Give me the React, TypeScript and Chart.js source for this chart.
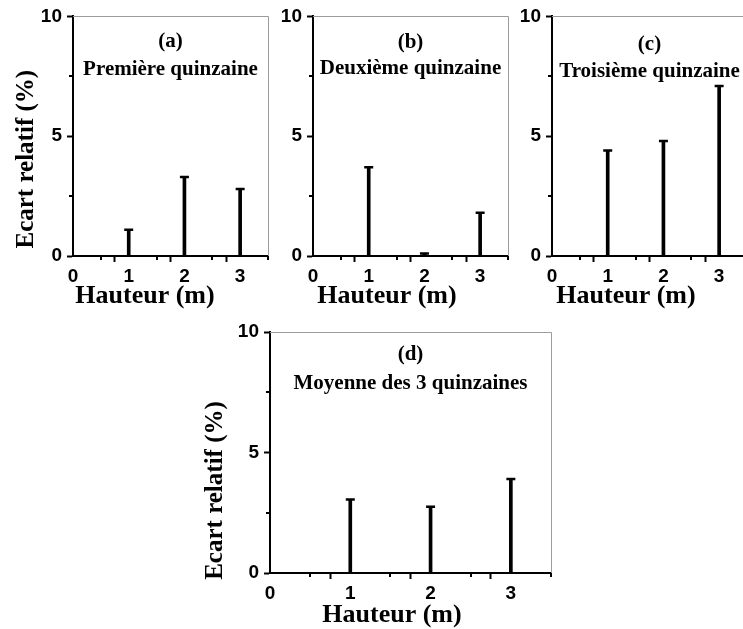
import { useEffect, useRef } from 'react';
import { Chart, registerables } from 'chart.js';

Chart.register(...registerables);

// ---------- data ----------
const heights = [1, 2, 3];
const valuesA = [1.1, 3.3, 2.8];
const valuesB = [3.7, 0.1, 1.8];
const valuesC = [4.4, 4.8, 7.1];
const valuesD = [3.05, 2.75, 3.9];

const xTickValues = [0, 1, 2, 3];
const xTickLabels = ['0', '1', '2', '3'];
const yTickValues = [0, 5, 10];
const yTickLabels = ['0', '5', '10'];

const panelLetters = ['(a)', '(b)', '(c)', '(d)'];
const panelNames = ['Première quinzaine', 'Deuxième quinzaine', 'Troisième quinzaine', 'Moyenne des 3 quinzaines'];
const xTitle = 'Hauteur (m)';
const yTitle = 'Ecart relatif (%)';

// ---------- layout ----------
type Panel = {
  values: number[];
  letter: string;
  name: string;
  showYTitle: boolean;
  left: number; top: number; w: number; h: number;
  yWidth: number; padTop: number; padRight: number; xHeight: number;
  xTitleDx: number; xTitleDy: number;
  yTitleDx: number; yTitleDy: number;
  letterDy: number; nameDy: number;
};

const panels: Panel[] = [
  {
    values: valuesA, letter: panelLetters[0], name: panelNames[0], showYTitle: true,
    left: 0, top: 0, w: 280, h: 315,
    yWidth: 73, padTop: 16, padRight: 12, xHeight: 59,
    xTitleDx: 72, xTitleDy: 47, yTitleDx: -40, yTitleDy: 23,
    letterDy: 25, nameDy: 53,
  },
  {
    values: valuesB, letter: panelLetters[1], name: panelNames[1], showYTitle: false,
    left: 280, top: 0, w: 240, h: 315,
    yWidth: 33, padTop: 16, padRight: 12, xHeight: 59,
    xTitleDx: 74, xTitleDy: 47, yTitleDx: 0, yTitleDy: 0,
    letterDy: 26, nameDy: 52,
  },
  {
    values: valuesC, letter: panelLetters[2], name: panelNames[2], showYTitle: false,
    left: 520, top: 0, w: 240, h: 315,
    yWidth: 32, padTop: 16, padRight: 13, xHeight: 59,
    xTitleDx: 74, xTitleDy: 47, yTitleDx: 0, yTitleDy: 0,
    letterDy: 28, nameDy: 55,
  },
  {
    values: valuesD, letter: panelLetters[3], name: panelNames[3], showYTitle: true,
    left: 180, top: 315, w: 390, h: 314,
    yWidth: 90, padTop: 17, padRight: 19, xHeight: 56,
    xTitleDx: 122, xTitleDy: 49, yTitleDx: -48, yTitleDy: 38,
    letterDy: 23, nameDy: 52,
  },
];

const SERIF = '"Liberation Serif", "Times New Roman", serif';
const SANS = '"Liberation Sans", Arial, sans-serif';

const isMajorX = (v: number) => xTickValues.indexOf(v) >= 0;
const isMajorY = (v: number) => yTickValues.indexOf(v) >= 0;

const decorPlugin = {
  id: 'decor',
  afterDraw(chart: any, _args: any, opts: any) {
    const p: Panel = opts.panel;
    const { ctx, chartArea: ca, scales } = chart;
    ctx.save();
    // top & right frame
    ctx.strokeStyle = '#9c9c9c';
    ctx.lineWidth = 1;
    ctx.beginPath();
    ctx.moveTo(ca.left, Math.round(ca.top) + 0.5);
    ctx.lineTo(Math.round(ca.right) + 0.5, Math.round(ca.top) + 0.5);
    ctx.lineTo(Math.round(ca.right) + 0.5, ca.bottom);
    ctx.stroke();

    // minor ticks
    ctx.strokeStyle = '#000';
    ctx.lineWidth = 2;
    ctx.beginPath();
    const xs = scales.x;
    xs.ticks.forEach((t: any) => {
      if (!isMajorX(t.value)) {
        const px = Math.round(xs.getPixelForValue(t.value));
        ctx.moveTo(px, ca.bottom);
        ctx.lineTo(px, ca.bottom + 4);
      }
    });
    const ys = scales.y;
    ys.ticks.forEach((t: any) => {
      if (!isMajorY(t.value)) {
        const py = Math.round(ys.getPixelForValue(t.value));
        ctx.moveTo(ca.left, py);
        ctx.lineTo(ca.left - 4, py);
      }
    });
    ctx.stroke();

    // panel annotations
    ctx.fillStyle = '#000';
    ctx.textAlign = 'center';
    ctx.textBaseline = 'middle';
    ctx.font = `bold 21px ${SERIF}`;
    const cx = (ca.left + ca.right) / 2;
    ctx.fillText(p.letter, cx, ca.top + p.letterDy);
    ctx.fillText(p.name, cx, ca.top + p.nameDy);

    // axis titles
    ctx.textBaseline = 'alphabetic';
    ctx.font = `bold 26px ${SERIF}`;
    ctx.fillText(xTitle, ca.left + p.xTitleDx, ca.bottom + p.xTitleDy);
    if (p.showYTitle) {
      ctx.translate(ca.left + p.yTitleDx, (ca.top + ca.bottom) / 2 + p.yTitleDy);
      ctx.rotate(-Math.PI / 2);
      ctx.font = `bold 25px ${SERIF}`;
      ctx.fillText(yTitle, 0, 0);
    }
    ctx.restore();
  },
};

function PanelChart({ p }: { p: Panel }) {
  const ref = useRef<HTMLCanvasElement>(null);
  useEffect(() => {
    const points = heights.map((h, i) => ({ x: h, y: p.values[i] }));
    const chart = new Chart(ref.current as HTMLCanvasElement, {
      type: 'bar',
      data: {
        datasets: [
          {
            type: 'bar',
            data: points,
            backgroundColor: '#000',
            borderWidth: 0,
            barThickness: 3,
          } as any,
          {
            type: 'scatter',
            data: points,
            pointStyle: 'line',
            pointRadius: 4.5,
            borderWidth: 2.5,
            borderColor: '#000',
            backgroundColor: '#000',
          } as any,
        ],
      },
      options: {
        responsive: false,
        animation: false,
        devicePixelRatio: 1,
        events: [],
        layout: { padding: { left: 0, top: p.padTop, right: p.padRight, bottom: 0 } },
        plugins: {
          legend: { display: false },
          tooltip: { enabled: false },
          decor: { panel: p },
        } as any,
        scales: {
          x: {
            type: 'linear',
            min: 0,
            max: 3.5,
            offset: false,
            afterFit: (s: any) => { s.height = p.xHeight; },
            border: { display: true, color: '#000', width: 2 },
            grid: {
              drawOnChartArea: false,
              drawTicks: true,
              tickLength: 6,
              tickWidth: 2,
              tickColor: (c: any) => (isMajorX(c.tick?.value) ? '#000' : 'rgba(0,0,0,0)'),
            },
            ticks: {
              stepSize: 0.5,
              autoSkip: false,
              maxRotation: 0,
              padding: 3,
              color: '#000',
              font: { family: SANS, size: 19, weight: 'bold' },
              callback: (v: any) => {
                const i = xTickValues.indexOf(Number(v));
                return i >= 0 ? xTickLabels[i] : '';
              },
            },
          } as any,
          y: {
            type: 'linear',
            min: 0,
            max: 10,
            afterFit: (s: any) => { s.width = p.yWidth; },
            border: { display: true, color: '#000', width: 2 },
            grid: {
              drawOnChartArea: false,
              drawTicks: true,
              tickLength: 6,
              tickWidth: 2,
              tickColor: (c: any) => (isMajorY(c.tick?.value) ? '#000' : 'rgba(0,0,0,0)'),
            },
            ticks: {
              stepSize: 2.5,
              autoSkip: false,
              padding: 5,
              color: '#000',
              font: { family: SANS, size: 19, weight: 'bold' },
              callback: (v: any) => {
                const i = yTickValues.indexOf(Number(v));
                return i >= 0 ? yTickLabels[i] : '';
              },
            },
          } as any,
        },
      },
      plugins: [decorPlugin as any],
    });
    return () => chart.destroy();
  }, [p]);
  return (
    <canvas
      ref={ref}
      width={p.w}
      height={p.h}
      style={{ position: 'absolute', left: p.left, top: p.top, width: p.w, height: p.h }}
    />
  );
}

export default function App() {
  return (
    <div
      style={{
        position: 'fixed',
        left: 0,
        top: 0,
        width: 743,
        height: 629,
        overflow: 'hidden',
        background: '#fff',
      }}
    >
      {panels.map((p, i) => (
        <PanelChart key={i} p={p} />
      ))}
    </div>
  );
}
